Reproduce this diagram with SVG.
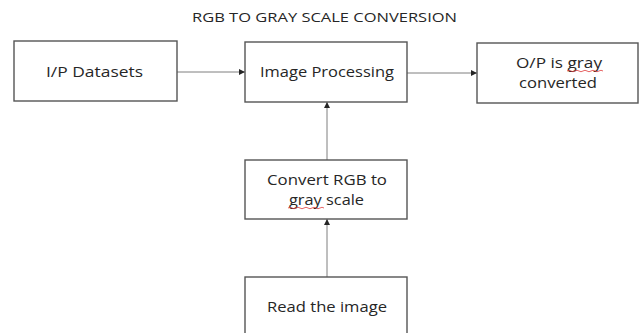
<svg xmlns="http://www.w3.org/2000/svg" width="640" height="333" viewBox="0 0 640 333">
  <defs>
    <style>
      .box { fill: #ffffff; stroke: #555555; stroke-width: 1.4; }
      .lbl { font-family: "Open Sans", "Liberation Sans", sans-serif; font-size: 15px; fill: #262626; }
      .title { font-family: "Open Sans", "Liberation Sans", sans-serif; font-size: 12px; fill: #262626; }
      .edge { stroke: #7f7f7f; stroke-width: 1; fill: none; }
      .squig { stroke: #e03c3c; stroke-width: 0.8; fill: none; }
    </style>
    <marker id="arr" viewBox="0 0 10 10" refX="10" refY="5" markerWidth="6" markerHeight="6" markerUnits="userSpaceOnUse" orient="auto">
      <path d="M0,0 L10,5 L0,10 z" fill="#262626"/>
    </marker>
  </defs>
  <rect width="640" height="333" fill="#ffffff"/>
  <text class="title" x="192" y="22" textLength="265" lengthAdjust="spacingAndGlyphs">RGB TO GRAY SCALE CONVERSION</text>

  <g id="connectors">
    <line class="edge" x1="177" y1="72" x2="245" y2="72" marker-end="url(#arr)"/>
    <line class="edge" x1="407" y1="73" x2="477" y2="73" marker-end="url(#arr)"/>
    <line class="edge" x1="327" y1="160" x2="327" y2="102" marker-end="url(#arr)"/>
    <line class="edge" x1="327" y1="277" x2="327" y2="219" marker-end="url(#arr)"/>
  </g>

  <g id="node-datasets">
    <rect class="box" x="14" y="41" width="163" height="60"/>
    <text class="lbl" x="46" y="77" textLength="97" lengthAdjust="spacingAndGlyphs">I/P Datasets</text>
  </g>
  <g id="node-processing">
    <rect class="box" x="245" y="42" width="162" height="60"/>
    <text class="lbl" x="260" y="77" textLength="134" lengthAdjust="spacingAndGlyphs">Image Processing</text>
  </g>
  <g id="node-output">
    <rect class="box" x="477" y="43" width="161" height="60"/>
    <text class="lbl" x="516" y="68" textLength="86" lengthAdjust="spacingAndGlyphs">O/P is gray</text>
    <path class="squig" d="M567,71 q2,-1.5 4,0 t4,0 t4,0 t4,0 t4,0 t4,0 t4,0 t4,0 t4,0"/>
    <text class="lbl" x="519" y="88" textLength="78" lengthAdjust="spacingAndGlyphs">converted</text>
  </g>
  <g id="node-convert">
    <rect class="box" x="245" y="160" width="162" height="59"/>
    <text class="lbl" x="267" y="185" textLength="120" lengthAdjust="spacingAndGlyphs">Convert RGB to</text>
    <text class="lbl" x="289" y="205" textLength="75" lengthAdjust="spacingAndGlyphs">gray scale</text>
    <path class="squig" d="M288,208 q2,-1.5 4,0 t4,0 t4,0 t4,0 t4,0 t4,0 t4,0 t4,0 t4,0"/>
  </g>
  <g id="node-read">
    <rect class="box" x="245" y="277" width="162" height="70"/>
    <text class="lbl" x="267" y="312" textLength="120" lengthAdjust="spacingAndGlyphs">Read the image</text>
  </g>
</svg>
